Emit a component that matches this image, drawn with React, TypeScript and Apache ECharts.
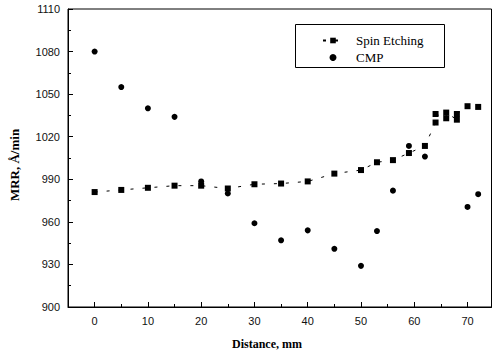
import React, { useEffect, useRef } from "react";
import * as echarts from "echarts";

const spinX = [0, 5, 10, 15, 20, 25, 30, 35, 40, 45, 50, 53, 56, 59, 62, 64, 64, 66, 66, 68, 68, 70, 72];
const spinY = [981, 982.5, 984, 985.5, 985.5, 983.5, 986.5, 987, 988.5, 994, 996.5, 1002, 1003.5, 1008.5, 1013.5, 1030, 1036, 1033, 1037, 1032, 1036, 1041.5, 1041];
const cmpX = [0, 5, 10, 15, 20, 25, 30, 35, 40, 45, 50, 53, 56, 59, 62, 70, 72];
const cmpY = [1080, 1055, 1040, 1034, 988.5, 980, 959, 947, 954, 941, 929, 953.5, 982, 1013.5, 1006, 970.5, 979.5];
const xMajorTicks = [0, 10, 20, 30, 40, 50, 60, 70];
const xMinorTicks = [5, 15, 25, 35, 45, 55, 65];
const seriesNames = ["Spin Etching", "CMP"];

export default function App() {
  const ref = useRef<HTMLDivElement>(null);
  useEffect(() => {
    if (!ref.current) return;
    const chart = echarts.init(ref.current, null, { renderer: "svg" });
    const sans = "Liberation Sans";
    const serif = "Liberation Serif";
    chart.setOption({
      animation: false,
      backgroundColor: "#fff",
      grid: { left: 68, right: 1.5, top: 9, bottom: 45, show: true, borderColor: "#000", borderWidth: 1 },
      xAxis: [
        {
          type: "value",
          min: -5,
          max: 74.5,
          axisLine: { show: true, onZero: false, lineStyle: { color: "#000", width: 1 } },
          axisTick: { show: true, inside: true, length: 5, customValues: xMajorTicks, lineStyle: { color: "#000" } },
          axisLabel: { customValues: xMajorTicks, color: "#111", fontFamily: sans, fontSize: 11, margin: 8 },
          splitLine: { show: false },
        },
        {
          type: "value",
          position: "bottom",
          min: -5,
          max: 74.5,
          axisLine: { show: false, onZero: false },
          axisTick: { show: true, inside: true, length: 3, customValues: xMinorTicks, lineStyle: { color: "#000" } },
          axisLabel: { show: false },
          splitLine: { show: false },
        },
      ],
      yAxis: {
        type: "value",
        min: 900,
        max: 1110,
        interval: 30,
        axisLine: { show: true, onZero: false, lineStyle: { color: "#000", width: 1 } },
        axisTick: { show: true, inside: true, length: 5, lineStyle: { color: "#000" } },
        minorTick: { show: true, splitNumber: 2, length: 3, lineStyle: { color: "#000" } },
        axisLabel: {
          color: "#111",
          fontFamily: sans,
          fontSize: 11,
          margin: 8,
          formatter: (v: number) => String(v),
        },
        splitLine: { show: false },
      },
      legend: {
        orient: "vertical",
        left: 317,
        top: 29,
        itemWidth: 20,
        itemHeight: 7,
        itemGap: 4,
        textStyle: { fontFamily: serif, fontSize: 13, color: "#000", padding: [0, 0, 0, 8] },
        data: seriesNames,
      },
      graphic: [
        {
          type: "rect",
          left: 295,
          top: 24,
          z: -1,
          shape: { width: 149, height: 43 },
          style: { fill: "#fff", stroke: "#000", lineWidth: 1 },
        },
        {
          type: "text",
          x: 14,
          y: 165,
          rotation: Math.PI / 2,
          style: {
            text: "MRR, Å/min",
            fontFamily: serif,
            fontWeight: "bold",
            fontSize: 13,
            fill: "#000",
            align: "center",
            verticalAlign: "middle",
          },
        },
        {
          type: "text",
          x: 267,
          y: 344,
          style: {
            text: "Distance, mm",
            fontFamily: serif,
            fontWeight: "bold",
            fontSize: 12,
            fill: "#000",
            align: "center",
            verticalAlign: "middle",
          },
        },
      ],
      series: [
        {
          name: seriesNames[0],
          type: "line",
          xAxisIndex: 0,
          data: spinX.map((x, i) => [x, spinY[i]]),
          symbol: "rect",
          symbolSize: 6,
          itemStyle: { color: "#000", opacity: 1 },
          lineStyle: { color: "#000", width: 1, type: [3, 9] },
        },
        {
          name: seriesNames[1],
          type: "scatter",
          xAxisIndex: 0,
          data: cmpX.map((x, i) => [x, cmpY[i]]),
          symbol: "circle",
          symbolSize: 6,
          itemStyle: { color: "#000", opacity: 1 },
        },
      ],
    });
    return () => chart.dispose();
  }, []);
  return <div ref={ref} style={{ width: 493, height: 352, position: "absolute", left: 0, top: 0 }} />;
}
